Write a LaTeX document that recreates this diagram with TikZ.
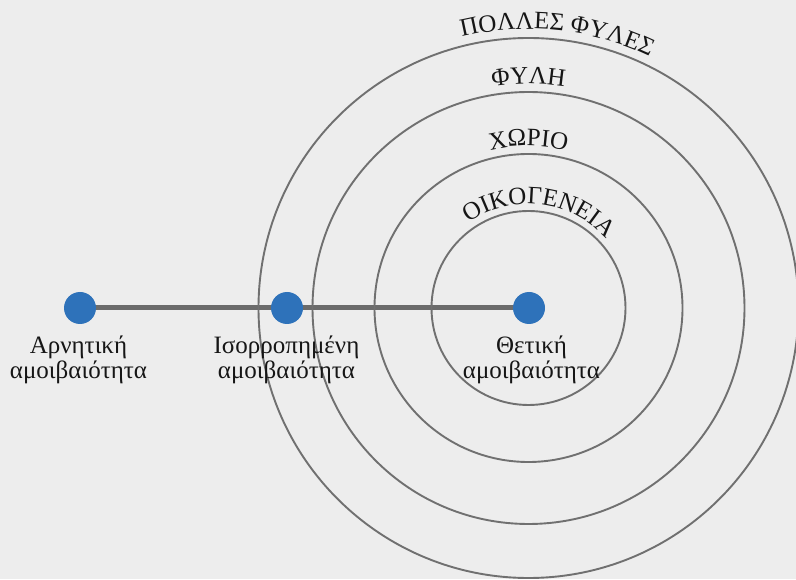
\documentclass[tikz,border=0pt]{standalone}
\usepackage{fontspec}
\setmainfont{Liberation Serif}
\usetikzlibrary{decorations.text}
\definecolor{bgcol}{HTML}{EDEDED}
\definecolor{ringcol}{HTML}{707070}
\definecolor{linecol}{HTML}{6B6B6B}
\definecolor{dotcol}{HTML}{2E72BA}
\definecolor{txtcol}{HTML}{161616}
\newcommand{\curvefont}{\fontsize{25}{30}\selectfont\color{txtcol}}
\pgfdeclarelayer{back}
\pgfdeclarelayer{mid}
\pgfsetlayers{back,mid,main}
\tikzset{
  ring/.style={draw=ringcol, line width=1.9pt},
  dotnode/.style={circle, fill=dotcol, minimum size=32pt, inner sep=0pt},
  lbl/.style={align=center, inner sep=0pt, text=txtcol, font=\fontsize{25}{25}\selectfont},
  bar/.style={draw=linecol, line width=5pt},
  curved/.style={decorate, decoration={text along path, text align=center, text={#1}}}
}
\begin{document}
\begin{tikzpicture}[x=1pt,y=1pt]
\useasboundingbox (0,0) rectangle (796,579);
\clip (0,0) rectangle (796,579);
\begin{pgfonlayer}{back}
\fill[bgcol] (0,0) rectangle (796,579);
\end{pgfonlayer}
\coordinate (ctr) at (528.5,271);
% rings
\draw[ring] (ctr) circle[radius=97];
\draw[ring] (ctr) circle[radius=154];
\draw[ring] (ctr) circle[radius=216];
\draw[ring] (ctr) circle[radius=270];
% curved labels
\path[curved={|\curvefont|ΟΙΚΟΓΕΝΕΙΑ}] (ctr) ++(173.4:104) arc[start angle=173.4, end angle=-6.6, radius=104];
\path[curved={|\curvefont|ΧΩΡΙΟ}] (ctr) ++(180:162) arc[start angle=180, end angle=0, radius=162];
\path[curved={|\curvefont|ΦΥΛΗ}] (ctr) ++(180:224) arc[start angle=180, end angle=0, radius=224];
\path[curved={|\curvefont|ΠΟΛΛΕΣ ΦΥΛΕΣ}] (ctr) ++(174:279) arc[start angle=174, end angle=-6, radius=279];
% dots
\node[dotnode] (neg) at (80,271) {};
\node[dotnode] (bal) at (287,271) {};
\node[dotnode] (pos) at (529,271) {};
\begin{pgfonlayer}{mid}
\draw[bar] (neg.center) -- (bal.center) -- (pos.center);
\end{pgfonlayer}
% labels
\node[lbl, anchor=north] (lneg) at (78.5,243) {Αρνητική\\αμοιβαιότητα};
\node[lbl, anchor=north] (lbal) at (286.5,243) {Ισορροπημένη\\αμοιβαιότητα};
\node[lbl, anchor=north] (lpos) at (531.5,243) {Θετική\\αμοιβαιότητα};
\end{tikzpicture}
\end{document}
